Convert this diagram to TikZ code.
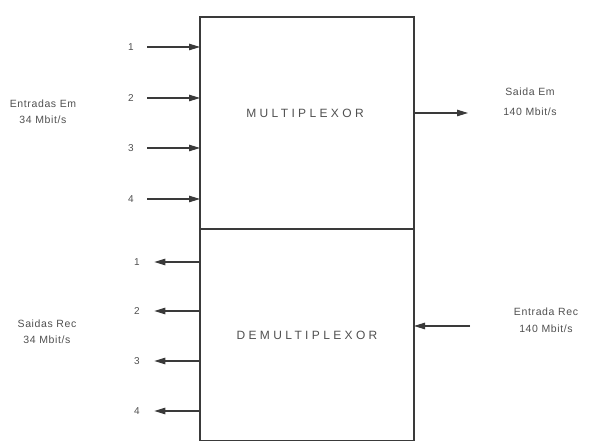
\documentclass[tikz,border=0pt]{standalone}
\usepackage{fontspec}
\setsansfont{Liberation Sans}
\newfontfamily\widefont{Liberation Sans}[LetterSpace=28]
\newfontfamily\sidefont{Liberation Sans}[LetterSpace=6]
\usetikzlibrary{arrows.meta, positioning}
\definecolor{cink}{HTML}{3A3A3A}
\definecolor{ctext}{HTML}{505050}
\tikzset{
  every picture/.style={line width=1.1pt},
  block/.style={draw=cink, minimum width=214pt, minimum height=212pt, inner sep=0pt, outer sep=0pt, font=\widefont\fontsize{12}{14}\selectfont, text=ctext},
  sig/.style={-{Triangle[length=11pt, width=6.5pt]}, draw=cink, fill=cink},
  portnum/.style={font=\sidefont\fontsize{10}{12}\selectfont, text=ctext, inner sep=1pt},
  side/.style={font=\sidefont\fontsize{10.5}{16}\selectfont, text=ctext, align=center},
}

\begin{document}
\begin{tikzpicture}[x=1pt, y=1pt]
  \useasboundingbox (0,0) rectangle (599,441);
  \node[block] (mux) at (307,318) {};
  \node[block, below=0pt of mux] (demux) {DEMULTIPLEXOR};
  \node[block, draw=none, minimum width=0pt, minimum height=0pt] (muxtext) at (305,328) {MULTIPLEXOR};
  \foreach \i/\y in {1/394, 2/343, 3/293, 4/242} {
    \node[portnum] (in\i) at (131,\y) {\i};
    \draw[sig] ([xshift=12pt]in\i.east) -- (in\i -| mux.west);
  }
  \foreach \i/\y in {1/179, 2/130, 3/80, 4/30} {
    \node[portnum] (out\i) at (137,\y) {\i};
    \draw[sig] (out\i -| demux.west) -- ([xshift=13pt]out\i.east);
  }
  \node[side] (inem) at (43,329) {Entradas Em\\34 Mbit/s};
  \node[side] (outrec) at (47,109) {Saidas Rec\\34 Mbit/s};
  \node[side, font=\sidefont\fontsize{10.5}{20}\selectfont] (txem) at (530,339) {Saida Em\\140 Mbit/s};
  \node[side, font=\sidefont\fontsize{10.5}{17}\selectfont] (rxrec) at (546,121) {Entrada Rec\\140 Mbit/s};
  \coordinate (txend) at (468,328);
  \coordinate (rxstart) at (470,115);
  \draw[sig] (txend -| mux.east) -- (txend);
  \draw[sig] (rxstart) -- (rxstart -| demux.east);
\end{tikzpicture}
\end{document}
